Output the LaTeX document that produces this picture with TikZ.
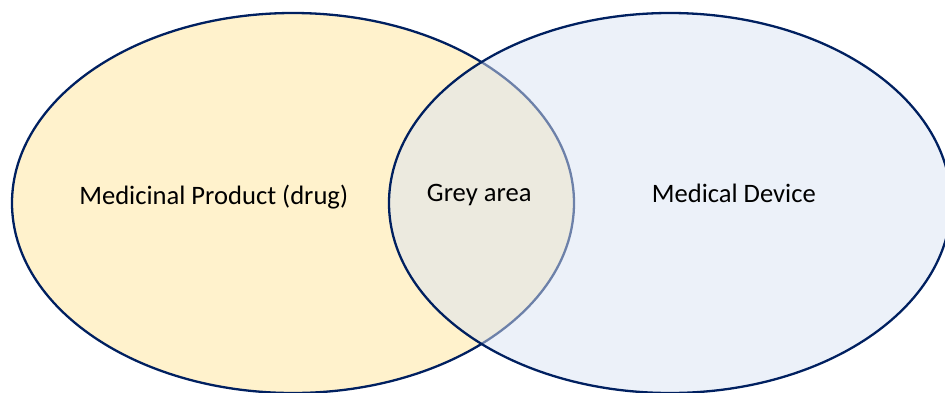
\documentclass[tikz,border=0pt]{standalone}
\usepackage{fontspec}
\setmainfont{Carlito}
\definecolor{navy}{HTML}{002060}
\definecolor{gold}{HTML}{FFF2CC}
\definecolor{paleblue}{HTML}{DAE3F3}
\begin{document}
\begin{tikzpicture}[x=1bp,y=-1bp,
  setline/.style={draw=navy,line width=2.3bp},
  lbl/.style={anchor=base,inner sep=0pt,font=\fontsize{26.7}{31}\selectfont,text=black}]
\useasboundingbox (0,0) rectangle (945,392);
\clip (0,0) rectangle (945,392);
\path[setline,fill=gold] (293,203) ellipse [x radius=281, y radius=190];
\fill[paleblue,fill opacity=0.5] (670,203) ellipse [x radius=281, y radius=190];
\draw[setline] (670,203) ellipse [x radius=281, y radius=190];
\node[lbl] (drug) at (213.7,204.3) {Medicinal Product (drug)};
\node[lbl] (grey) at (479.2,201) {Grey area};
\node[lbl] (device) at (733.8,202.7) {Medical Device};
\end{tikzpicture}
\end{document}
